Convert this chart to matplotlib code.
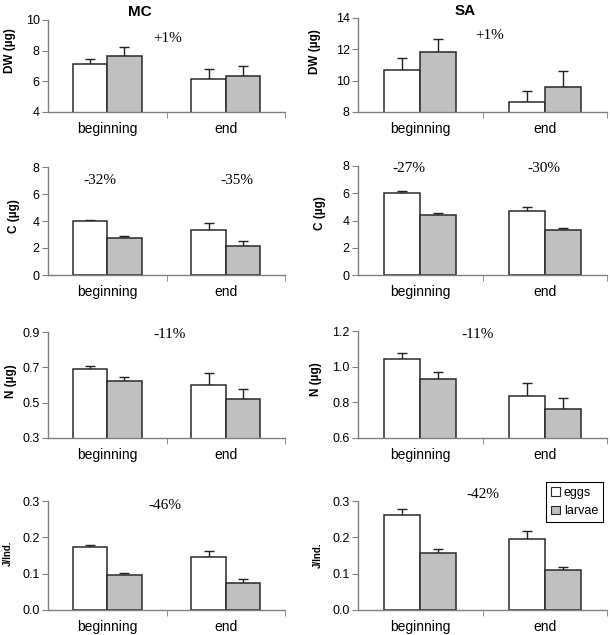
import numpy as np
import matplotlib
matplotlib.use('Agg')
import matplotlib.pyplot as plt
from matplotlib.patches import Patch

plt.rcParams['font.family'] = ['Liberation Sans', 'DejaVu Sans']

# data (mean, upper error bar end)
categories = ['beginning', 'end']
sites = ['MC', 'SA']
ylabels = ['DW (\u00b5g)', 'C (\u00b5g)', 'N (\u00b5g)', 'J/Ind.']

# rows: DW, C, N, J ; each entry [beginning, end]
mc_eggs = [[7.13, 6.13], [4.01, 3.37], [0.692, 0.599], [0.174, 0.145]]
mc_eggs_err = [[0.30, 0.70], [0.08, 0.45], [0.015, 0.068], [0.006, 0.017]]
mc_larvae = [[7.63, 6.33], [2.73, 2.17], [0.624, 0.518], [0.095, 0.074]]
mc_larvae_err = [[0.59, 0.69], [0.17, 0.32], [0.019, 0.058], [0.007, 0.011]]

sa_eggs = [[10.67, 8.66], [6.02, 4.68], [1.045, 0.837], [0.262, 0.196]]
sa_eggs_err = [[0.75, 0.69], [0.13, 0.34], [0.034, 0.070], [0.016, 0.021]]
sa_larvae = [[11.80, 9.62], [4.39, 3.27], [0.931, 0.762], [0.157, 0.111]]
sa_larvae_err = [[0.86, 0.97], [0.15, 0.19], [0.040, 0.063], [0.011, 0.008]]

mc_ylim = [(4, 10), (0, 8), (0.3, 0.9), (0.0, 0.3)]
mc_yticks = [[4, 6, 8, 10], [0, 2, 4, 6, 8], [0.3, 0.5, 0.7, 0.9], [0.0, 0.1, 0.2, 0.3]]
sa_ylim = [(8, 14), (0, 8), (0.6, 1.2), (0.0, 0.3)]
sa_yticks = [[8, 10, 12, 14], [0, 2, 4, 6, 8], [0.6, 0.8, 1.0, 1.2], [0.0, 0.1, 0.2, 0.3]]
tick_fmt = ['{:.0f}', '{:.0f}', '{:.1f}', '{:.1f}']

# percent changes: (text, x in data units, y in data units)
mc_notes = [[('+1%', 0.51, 8.8)],
            [('-32%', -0.06, 6.97), ('-35%', 1.09, 6.97)],
            [('-11%', 0.53, 0.887)],
            [('-46%', 0.49, 0.288)]]
sa_notes = [[('+1%', 0.56, 12.87)],
            [('-27%', -0.09, 7.8), ('-30%', 0.99, 7.8)],
            [('-11%', 0.46, 1.181)],
            [('-42%', 0.50, 0.318)]]

W, H = 610, 635
fig = plt.figure(figsize=(W / 100, H / 100), dpi=100)

# axes boxes in pixels: (left, top, right, bottom)
col_x = [(48, 285), (358, 607)]
row_y = [[(20, 112), (167, 275), (332, 438), (501, 610)],
         [(18, 112), (166, 275), (331, 438), (501, 610)]]
label_pos = [[(-0.135, 0.67), (-0.118, 0.55), (-0.131, 0.54), (-0.15, 0.52)],
             [(-0.148, 0.64), (-0.128, 0.57), (-0.144, 0.55), (-0.14, 0.50)]]

edge = '#2a2a2a'
spine_col = '#808080'
bw = 0.29
x = np.arange(len(categories))

site_data = [(mc_eggs, mc_eggs_err, mc_larvae, mc_larvae_err, mc_ylim, mc_yticks, mc_notes),
             (sa_eggs, sa_eggs_err, sa_larvae, sa_larvae_err, sa_ylim, sa_yticks, sa_notes)]

for c, (eg, ege, lv, lve, ylim, yticks, notes) in enumerate(site_data):
    x0, x1 = col_x[c]
    for r in range(4):
        top, bot = row_y[c][r]
        ax = fig.add_axes([x0 / W, 1 - bot / H, (x1 - x0) / W, (bot - top) / H])
        ax.bar(x - bw / 2, eg[r], bw, color='white', edgecolor=edge, linewidth=1.1, zorder=2)
        ax.bar(x + bw / 2, lv[r], bw, color='#c0c0c0', edgecolor=edge, linewidth=1.1, zorder=2)
        ax.errorbar(x - bw / 2, eg[r], yerr=[np.zeros(2), ege[r]], fmt='none',
                    ecolor='#222222', elinewidth=1.0, capsize=3.5, capthick=1.0, zorder=1)
        ax.errorbar(x + bw / 2, lv[r], yerr=[np.zeros(2), lve[r]], fmt='none',
                    ecolor='#222222', elinewidth=1.0, capsize=3.5, capthick=1.0, zorder=1)
        ax.set_xlim(-0.5, 1.5)
        ax.set_ylim(*ylim[r])
        ax.set_yticks(yticks[r])
        ax.set_yticklabels([tick_fmt[r].format(v) for v in yticks[r]], fontsize=9)
        ax.set_xticks(x)
        ax.set_xticklabels(categories, fontsize=10)
        ax.set_xticks([0.5, 1.5], minor=True)
        ax.tick_params(axis='x', which='major', length=0, pad=7)
        ax.tick_params(axis='x', which='minor', length=4, color=spine_col, direction='out')
        ax.tick_params(axis='y', length=4, color=spine_col, direction='out', pad=2)
        for s in ['top', 'right']:
            ax.spines[s].set_visible(False)
        for s in ['left', 'bottom']:
            ax.spines[s].set_color(spine_col)
            ax.spines[s].set_linewidth(1.0)
        fs = 7 if r == 3 else 8.5
        ax.set_ylabel(ylabels[r], fontsize=fs, fontweight='bold')
        ax.yaxis.set_label_coords(*label_pos[c][r])
        for txt, tx, ty in notes[r]:
            ax.text(tx, ty, txt, ha='center', va='center', fontsize=11,
                    family=['Liberation Serif', 'DejaVu Serif'])

fig.text(140 / W, 1 - 12 / H, sites[0], ha='center', va='center', fontsize=11, fontweight='bold')
fig.text(465 / W, 1 - 11 / H, sites[1], ha='center', va='center', fontsize=11, fontweight='bold')

handles = [Patch(facecolor='white', edgecolor=edge, linewidth=0.8),
           Patch(facecolor='#c0c0c0', edgecolor=edge, linewidth=0.8)]
leg = fig.legend(handles, ['eggs', 'larvae'], loc='upper right',
                 bbox_to_anchor=(603 / W, 1 - 482 / H), fontsize=9,
                 handlelength=0.7, handleheight=0.7, handletextpad=0.3,
                 borderpad=0.4, labelspacing=0.5, fancybox=False, framealpha=1,
                 edgecolor='black', borderaxespad=0)
leg.get_frame().set_linewidth(0.8)

fig.savefig('out.png', dpi=100)
